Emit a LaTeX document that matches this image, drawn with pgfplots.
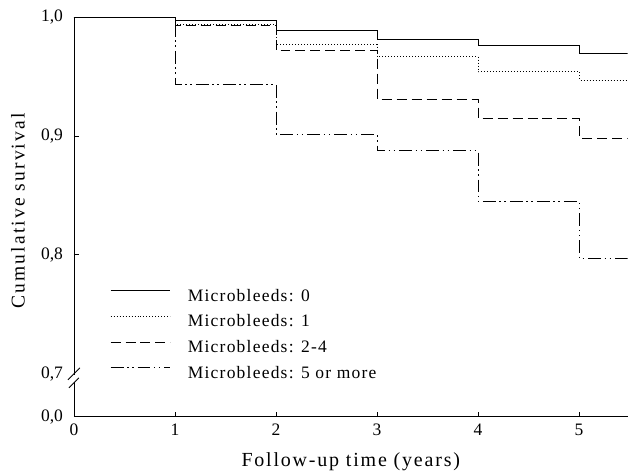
\documentclass[border=0pt]{standalone}
\usepackage{fontspec}
\setmainfont{Liberation Serif}
\newfontfamily\legfont{Liberation Serif}[LetterSpace=7]
\newfontfamily\xlabfont{Liberation Serif}[LetterSpace=9]
\newfontfamily\ylabfont{Liberation Serif}[LetterSpace=11]
\usepackage{pgfplots}
\pgfplotsset{compat=1.18}

\begin{document}
\begin{tikzpicture}
  \begin{axis}[
      scale only axis, width=554bp, height=400bp,
      xmin=0, xmax=5.48, ymin=0.6639, ymax=1.0,
      axis lines=left, axis line style={-, line width=0.8bp},
      tick align=inside, major tick length=5bp,
      tick style={line width=0.8bp, black},
      xtick={0,1,2,3,4,5}, xticklabels={0,1,2,3,4,5},
      ytick={0.8,0.9,1.0},
      yticklabels={{0,8},{0,9},{1,0}},
      extra y ticks={0.6639,0.7},
      extra y tick labels={{0,0},{0,7}},
      extra y tick style={major tick length=0pt},
      ticklabel style={font=\fontsize{17.5bp}{20bp}\selectfont},
      xticklabel style={yshift=-4bp},
      yticklabel style={xshift=-7.5bp},
      xlabel={\xlabfont Follow-up time (years)},
      ylabel={\ylabfont Cumulative survival},
      xlabel style={font=\fontsize{20bp}{24bp}\selectfont,
        at={(axis description cs:0.5,-0.1125)}, anchor=center},
      ylabel style={font=\fontsize{19.5bp}{24bp}\selectfont,
        at={(axis description cs:-0.101,0.515)}, anchor=center, rotate=0},
      legend cell align=left,
      legend style={at={(axis cs:0.356,0.7714)}, anchor=north west,
        draw=none, fill=none, inner sep=0pt, row sep=9.7bp,
        font=\fontsize{17.5bp}{20bp}\selectfont\legfont,
        nodes={inner sep=0pt, text height=12bp, text depth=4bp}},
      legend image code/.code={\draw[#1] (0bp,6.5bp) -- (60bp,6.5bp); \path (77bp,6.5bp);},
      every axis plot/.append style={black, line width=0.8bp, const plot},
      clip=true
    ]
    \addplot[solid] coordinates {(0,1) (1,0.9975) (2,0.989) (3,0.981) (4,0.976) (5,0.9695) (5.48,0.9695)};
    \addplot[dash pattern=on 1bp off 2bp] coordinates {(0,1) (1,0.9935) (2,0.977) (3,0.967) (4,0.954) (5,0.947) (5.48,0.947)};
    \addplot[dash pattern=on 10bp off 5bp] coordinates {(0,1) (1,0.993) (2,0.972) (3,0.931) (4,0.915) (5,0.898) (5.48,0.898)};
    \addplot[dash pattern=on 13bp off 3.5bp on 1.5bp off 3.5bp on 1.5bp off 4bp] coordinates {(0,1) (1,0.9437) (2,0.9014) (3,0.8877) (4,0.8448) (5,0.797) (5.48,0.797)};
    \legend{Microbleeds: 0, Microbleeds: 1, Microbleeds: 2-4, Microbleeds: 5 or more}
    \coordinate (brk) at (axis cs:0,0.7);
    \coordinate (sw) at (rel axis cs:0,0);
    \coordinate (ne) at (rel axis cs:1,1);
  \end{axis}
  \begin{scope}[shift={(brk)}, line width=0.8bp]
    \fill[white] (-1.5bp,-8bp) rectangle (1.5bp,-1bp);
    \draw (-6bp,-6bp) -- (6bp,6bp);
    \draw (-5bp,-14bp) -- (5bp,-4bp);
  \end{scope}
  \path ([xshift=-74bp,yshift=-56bp]sw) ([yshift=17bp]ne);
\end{tikzpicture}
\end{document}
